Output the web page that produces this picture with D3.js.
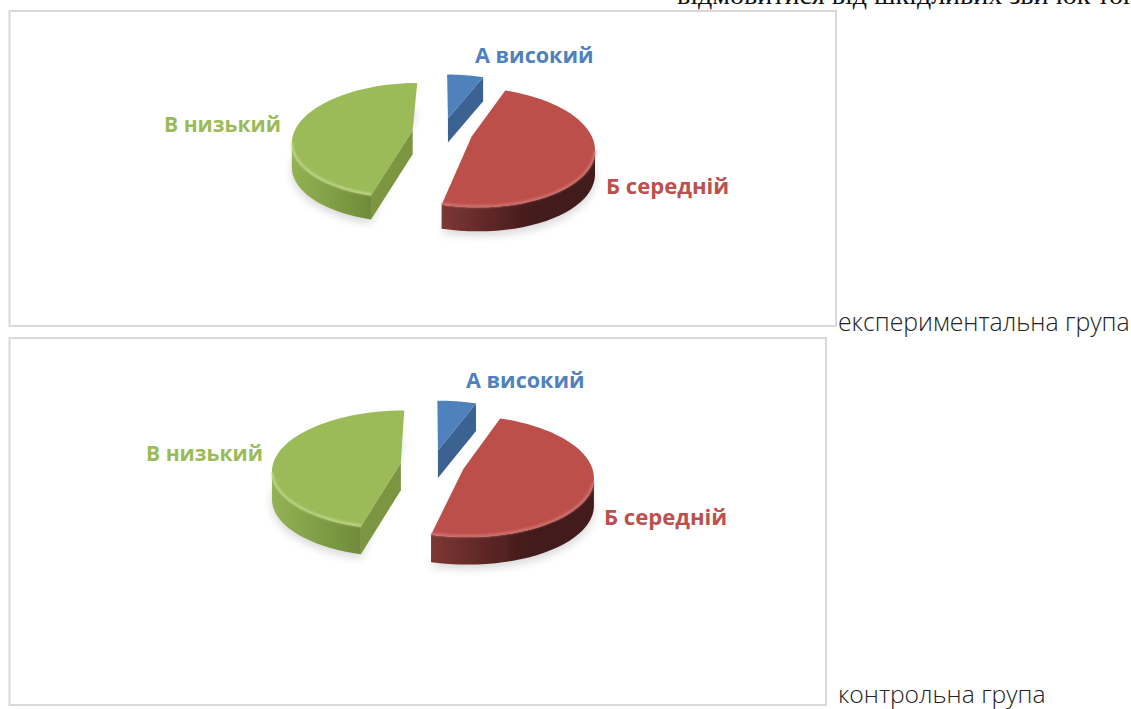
<!DOCTYPE html>
<html><head><meta charset="utf-8">
<script src="https://cdn.jsdelivr.net/npm/d3@7"></script>
<style>html,body{margin:0;padding:0;background:#fff;overflow:hidden}svg{display:block}</style>
</head><body><svg id="c" width="1131" height="709"></svg>
<script>
const categories = ["А високий", "Б середній", "В низький"];
const valuesExperimental = [6, 48, 46];
const valuesControl = [5.6, 48.4, 46];
const colorsTop = ["#4f81bd", "#bd4f4c", "#9bbb59"];
const colorsCut = ["#3a6290", "#7a3533", "#7b9541"];
const colorsWallA = ["#3a6290", "#7e3735", "#8fad50"];
const colorsWallB = ["#2f5078", "#431a1a", "#6e8a3a"];
const colorsBevel = ["#6f9bd0", "#d8807c", "#c8de94"];
const labelSizes = [21.6, 22.1, 21.1];
const caption1 = "експериментальна група";
const caption2 = "контрольна група";
const clippedLine = "відмовитися від шкідливих звичок того";

const svg = d3.select("#c");
const defs = svg.append("defs");
defs.append("filter").attr("id","soft").attr("x","-20%").attr("y","-20%").attr("width","140%").attr("height","140%")
  .append("feGaussianBlur").attr("stdDeviation",5);
defs.append("filter").attr("id","soft1").attr("x","-10%").attr("y","-10%").attr("width","120%").attr("height","120%")
  .append("feGaussianBlur").attr("stdDeviation",0.9);
defs.append("filter").attr("id","soft0").attr("x","-5%").attr("y","-5%").attr("width","110%").attr("height","110%")
  .append("feGaussianBlur").attr("stdDeviation",0.45);

function frame(x0,y0,x1,y1){
  svg.append("rect").attr("x",x0).attr("y",y0).attr("width",x1-x0).attr("height",y1-y0)
    .attr("fill","#fff").attr("stroke","#d9d9d9").attr("stroke-width",2);
}
frame(9.5,11,836,326);
frame(9.5,338,826,705);

const line = d3.line();
function drawPie(id, values, opt){
  const pie = d3.pie().sort(null).value(d=>d)(values);
  const g = svg.append("g");
  const rScale = d3.scaleLinear().domain([0,1]).range([0,opt.R]);
  const yScale = d3.scaleLinear().domain([0,1]).range([0,opt.R*opt.T]);
  const proj = (x,z)=>{ const s = 1/(1-opt.k*z); return [opt.cx + rScale(x)*s, opt.cy + yScale(z)*s]; };
  const geo = pie.map(p=>{
    const mid=(p.startAngle+p.endAngle)/2;
    const ox=opt.e*Math.sin(mid), oz=-opt.e*Math.cos(mid);
    const arc=d3.range(0,49).map(i=>{
      const a=p.startAngle+(p.endAngle-p.startAngle)*i/48;
      return proj(ox+Math.sin(a),oz-Math.cos(a));
    });
    return {i:p.index,apex:proj(ox,oz),arc};
  });
  [1,2].forEach(i=>{
    g.append("path").attr("d",line(geo[i].arc.map(p=>[p[0],p[1]+opt.depth+4]))+"Z")
      .attr("fill","#000").attr("opacity",.16).attr("filter","url(#soft)");
  });
  const pg=g.append("g").attr("filter","url(#soft0)");
  [0,2,1].forEach(i=>{
    const d=geo[i], dn=p=>[p[0],p[1]+opt.depth];
    const first=d.arc[0], last=d.arc[d.arc.length-1];
    if(i===0) pg.append("path").attr("d",line([d.apex,last,dn(last),dn(d.apex)])+"Z").attr("fill",colorsCut[i]);
    if(i===2) pg.append("path").attr("d",line([d.apex,first,dn(first),dn(d.apex)])+"Z").attr("fill",colorsCut[i]);
    let front=[];
    if(i!==0){
      const xs=d.arc.map(p=>p[0]);
      if(i===1){ const k=xs.indexOf(d3.max(xs)); front=d.arc.slice(k); }
      else { const k=xs.indexOf(d3.min(xs)); front=d.arc.slice(0,k+1); }
      const ext=d3.extent(front,p=>p[0]);
      const gid=`${id}w${i}`;
      const lg=defs.append("linearGradient").attr("id",gid).attr("gradientUnits","userSpaceOnUse")
        .attr("x1",i===1?ext[0]:ext[1]).attr("x2",i===1?opt.cx+opt.R*0.75:ext[0]).attr("y1",0).attr("y2",0);
      lg.append("stop").attr("offset",0).attr("stop-color",i===1?colorsWallA[i]:"#6f8b3a");
      lg.append("stop").attr("offset",1).attr("stop-color",i===1?colorsWallB[i]:"#93b253");
      pg.append("path").attr("d",line([...front,...front.map(dn).reverse()])+"Z").attr("fill",`url(#${gid})`);
    }
    pg.append("path").attr("d",line([d.apex,...d.arc])+"Z").attr("fill",colorsTop[i]);
    if(i!==0){
      const rim=front.filter(p=>p[1]>opt.cy+(i===2?8:18)).map(p=>[p[0],p[1]-1]);
      pg.append("path").attr("d",line(rim)).attr("fill","none").attr("stroke",colorsBevel[i])
        .attr("stroke-width",2).attr("filter","url(#soft1)").attr("opacity",.9);
    }
  });
  categories.forEach((c,i)=>{
    svg.append("text").attr("x",opt.labels[i][0]).attr("y",opt.labels[i][1]).text(c)
      .attr("font-family","'Open Sans',sans-serif").attr("font-weight",700).attr("font-size",labelSizes[i])
      .attr("fill",colorsTop[i]);
  });
}
drawPie("a",valuesExperimental,{cx:442.5,cy:132,R:118.5,T:.475,k:.18,e:.255,depth:24,
  labels:[[475,63],[606,194],[164,132]]});
drawPie("b",valuesControl,{cx:432.5,cy:464.5,R:128,T:.46,k:.12,e:.25,depth:27.5,
  labels:[[466,388],[604,525],[146,461]]});

svg.append("text").attr("x",838).attr("y",331).text(caption1)
  .attr("font-family","'Open Sans',sans-serif").attr("font-weight",300).attr("font-size",24.8).attr("fill","#222");
svg.append("text").attr("x",838).attr("y",703).text(caption2)
  .attr("font-family","'Open Sans',sans-serif").attr("font-weight",300).attr("font-size",24.7).attr("fill","#222");
svg.append("text").attr("x",677).attr("y",4).text(clippedLine)
  .attr("font-family","'Liberation Serif',serif").attr("font-size",28).attr("fill","#111");
</script></body></html>
